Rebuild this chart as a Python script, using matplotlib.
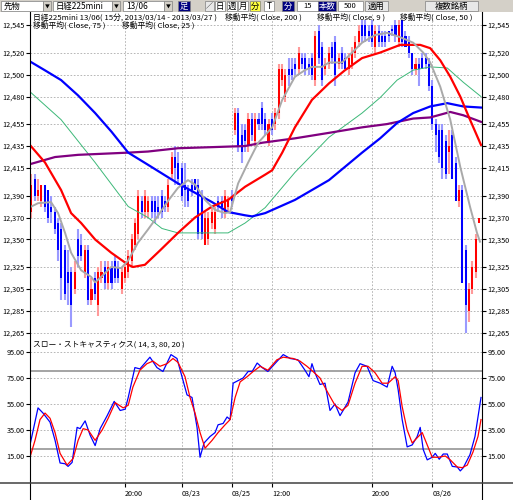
import numpy as np
import matplotlib
matplotlib.use('Agg')
import matplotlib.pyplot as plt
from matplotlib.patches import Rectangle

plt.rcParams['font.family'] = ['Noto Sans CJK JP', 'DejaVu Sans']

# --- 15 min candles ---
open_ = [12375, 12405, 12390, 12385, 12400, 12395, 12380, 12375, 12365, 12360,
         12340, 12320, 12320, 12305, 12350, 12345, 12320, 12340, 12295, 12315,
         12290, 12315, 12325, 12310, 12325, 12330, 12325, 12305, 12315, 12320,
         12330, 12345, 12355, 12385, 12375, 12375, 12385, 12385, 12380, 12390,
         12385, 12380, 12410, 12425, 12420, 12415, 12400, 12395, 12400, 12405,
         12400, 12390, 12345, 12350, 12365, 12360, 12385, 12385, 12375, 12380,
         12390, 12450, 12465, 12445, 12450, 12435, 12460, 12440, 12460, 12470,
         12460, 12440, 12460, 12455, 12465, 12495, 12480, 12505, 12505, 12510,
         12505, 12515, 12515, 12510, 12515, 12495, 12540, 12525, 12505, 12510,
         12525, 12530, 12510, 12520, 12515, 12505, 12510, 12520, 12530, 12545,
         12545, 12540, 12545, 12525, 12540, 12535, 12535, 12540, 12540, 12545,
         12530, 12550, 12535, 12530, 12520, 12505, 12510, 12515, 12515, 12510,
         12490, 12455, 12450, 12450, 12440, 12430, 12445, 12420, 12385, 12395,
         12340, 12285, 12305, 12320, 12365]
high = [12410, 12410, 12405, 12400, 12400, 12395, 12390, 12380, 12370, 12365,
        12345, 12340, 12325, 12330, 12360, 12355, 12345, 12345, 12315, 12320,
        12325, 12330, 12330, 12330, 12330, 12335, 12330, 12325, 12330, 12340,
        12355, 12370, 12395, 12390, 12395, 12390, 12390, 12390, 12390, 12395,
        12390, 12405, 12430, 12435, 12430, 12420, 12420, 12400, 12405, 12405,
        12405, 12395, 12375, 12375, 12380, 12380, 12390, 12390, 12395, 12390,
        12395, 12470, 12470, 12455, 12455, 12465, 12465, 12465, 12465, 12475,
        12465, 12460, 12465, 12470, 12510, 12510, 12505, 12515, 12515, 12515,
        12525, 12520, 12520, 12515, 12520, 12540, 12545, 12530, 12515, 12525,
        12530, 12535, 12520, 12525, 12520, 12520, 12525, 12535, 12545, 12550,
        12550, 12545, 12550, 12545, 12545, 12540, 12540, 12540, 12545, 12550,
        12550, 12550, 12540, 12535, 12520, 12515, 12515, 12520, 12520, 12515,
        12495, 12460, 12455, 12455, 12445, 12450, 12450, 12425, 12400, 12400,
        12345, 12310, 12330, 12355, 12370]
low = [12370, 12385, 12385, 12380, 12375, 12365, 12365, 12355, 12330, 12295,
       12295, 12290, 12270, 12300, 12325, 12330, 12315, 12290, 12290, 12295,
       12280, 12310, 12305, 12305, 12305, 12310, 12310, 12300, 12310, 12315,
       12325, 12340, 12350, 12370, 12370, 12370, 12370, 12365, 12370, 12370,
       12375, 12375, 12405, 12400, 12400, 12385, 12380, 12380, 12390, 12395,
       12350, 12350, 12345, 12345, 12360, 12355, 12375, 12370, 12370, 12375,
       12380, 12445, 12430, 12420, 12430, 12430, 12440, 12435, 12450, 12450,
       12445, 12435, 12445, 12450, 12460, 12490, 12475, 12490, 12495, 12500,
       12500, 12505, 12500, 12500, 12495, 12490, 12510, 12490, 12500, 12505,
       12510, 12490, 12505, 12505, 12505, 12500, 12505, 12515, 12525, 12530,
       12530, 12530, 12525, 12520, 12525, 12525, 12525, 12530, 12535, 12530,
       12525, 12525, 12525, 12515, 12500, 12500, 12490, 12505, 12505, 12485,
       12450, 12430, 12420, 12405, 12405, 12410, 12405, 12385, 12380, 12310,
       12265, 12275, 12300, 12315, 12365]
close = [12400, 12390, 12395, 12400, 12380, 12370, 12375, 12360, 12340, 12315,
         12300, 12310, 12290, 12320, 12335, 12335, 12340, 12295, 12305, 12300,
         12320, 12320, 12310, 12325, 12310, 12315, 12315, 12320, 12325, 12335,
         12350, 12365, 12390, 12375, 12390, 12385, 12375, 12375, 12375, 12375,
         12380, 12400, 12425, 12415, 12405, 12390, 12395, 12385, 12395, 12395,
         12355, 12355, 12370, 12370, 12375, 12375, 12380, 12380, 12390, 12385,
         12385, 12465, 12435, 12430, 12440, 12460, 12445, 12460, 12455, 12455,
         12450, 12455, 12450, 12465, 12505, 12505, 12500, 12500, 12500, 12505,
         12520, 12510, 12505, 12505, 12500, 12535, 12515, 12495, 12510, 12520,
         12515, 12500, 12515, 12510, 12505, 12515, 12520, 12530, 12540, 12535,
         12535, 12535, 12530, 12540, 12530, 12530, 12530, 12535, 12540, 12535,
         12545, 12530, 12525, 12520, 12505, 12510, 12505, 12505, 12510, 12490,
         12455, 12445, 12425, 12415, 12410, 12435, 12405, 12385, 12395, 12310,
         12290, 12305, 12325, 12350, 12370]

# --- moving averages (bar position, value) ---
ma200_x = [-1.0, 7.1, 14.0, 29.0, 34.9, 43.9, 54.1, 64.0, 69.1, 78.9, 89.1, 99.0, 106.5, 114.3, 119.4, 125.4, 129.3, 134.6]
ma200_y = [12418, 12425, 12427, 12429, 12430, 12433, 12434, 12435, 12438, 12442, 12447, 12452, 12455, 12460, 12461, 12466, 12463, 12457]

ma50_x = [-1.0, 4.0, 8.9, 14.0, 19.1, 24.0, 29.0, 34.9, 43.9, 54.1, 58.9, 64.0, 66.1, 70.0, 78.9, 89.1, 99.0, 104.4, 109.5, 114.3, 119.4, 124.5, 129.3, 134.6]
ma50_y = [12513, 12504, 12495, 12481, 12465, 12448, 12429, 12418, 12401, 12384, 12375, 12372, 12371, 12374, 12386, 12404, 12429, 12442, 12456, 12465, 12471, 12474, 12471, 12470]

ma75_x = [-1.0, 8.9, 19.1, 29.0, 34.9, 39.1, 43.9, 49.0, 54.1, 58.9, 64.0, 70.0, 78.9, 89.1, 99.0, 104.4, 109.5, 114.3, 119.4, 124.5, 129.3, 134.6]
ma75_y = [12486, 12459, 12420, 12380, 12370, 12360, 12356, 12356, 12356, 12356, 12365, 12379, 12411, 12443, 12465, 12479, 12495, 12504, 12507, 12506, 12493, 12480]

ma25_x = [-1.0, 4.1, 8.9, 11.9, 14.9, 19.1, 23.9, 29.0, 30.4, 34.0, 38.5, 43.9, 49.0, 54.1, 58.9, 64.0, 70.0, 72.1,
          75.1, 78.9, 84.0, 89.1, 93.9, 99.0, 104.4, 110.4, 116.4, 119.4, 122.4, 125.4, 128.4, 131.3, 134.6]
ma25_y = [12438, 12420, 12395, 12374, 12365, 12350, 12338, 12327, 12325, 12327, 12340, 12356, 12370, 12380, 12386, 12398, 12409, 12413,
          12429, 12452, 12477, 12492, 12504, 12515, 12520, 12527, 12527, 12524, 12513, 12498, 12480, 12459, 12436]

ma9_x = [0.0, 2.0, 5.9, 8.0, 10.1, 11.9, 14.9, 17.9, 19.1, 20.9, 23.9, 26.9, 29.0, 31.9, 34.9, 38.0, 40.9, 43.9, 46.9, 49.0,
         52.0, 55.0, 58.0, 59.5, 61.9, 64.9, 67.9, 70.0, 72.1, 75.1, 78.9, 81.9, 84.0, 87.0, 89.1, 93.0, 96.0, 99.0, 102.9,
         106.5, 110.4, 114.3, 117.3, 119.4, 122.4, 125.4, 128.4, 131.3, 133.4, 134.3]
ma9_y = [12380, 12383, 12384, 12374, 12356, 12338, 12322, 12316, 12311, 12316, 12325, 12324, 12331, 12347, 12359, 12372, 12385, 12397, 12404, 12400,
         12386, 12377, 12374, 12375, 12401, 12420, 12438, 12445, 12452, 12477, 12498, 12504, 12507, 12507, 12511, 12511, 12520, 12529, 12536,
         12538, 12534, 12529, 12520, 12511, 12489, 12459, 12416, 12380, 12356, 12348]

# --- slow stochastics (14, 3, 80, 20) ---
k_x = [-0.4, 2.0, 3.5, 5.6, 7.1, 8.6, 10.1, 11.0, 12.2, 13.7, 14.6, 16.1, 17.6, 19.1, 20.6, 22.7, 24.8, 26.6, 28.1, 29.0,
       31.0, 32.5, 35.5, 37.6, 39.4, 41.8, 43.6, 45.1, 46.6, 48.1, 49.6, 50.5, 51.7, 53.5, 55.0, 55.9, 57.4, 58.6, 59.5,
       60.4, 61.9, 63.4, 64.9, 66.1, 67.6, 69.1, 70.8, 72.9, 75.4, 77.5, 79.8, 81.9, 83.1, 84.0, 84.9, 86.4, 87.9, 89.4,
       90.9, 92.4, 94.8, 96.9, 98.4, 100.5, 102.3, 104.4, 106.5, 108.0, 108.9, 109.8, 111.0, 112.5, 114.0, 115.5, 116.4,
       117.3, 118.5, 120.0, 120.9, 122.1, 123.3, 124.5, 126.0, 127.5, 128.4, 129.3, 131.3, 132.8, 134.6]
k_y = [23.5, 52, 48, 41, 27, 9.6, 9, 7, 10, 37, 36, 42, 31, 23, 36, 46, 57, 50, 51, 60,
       83, 82, 91, 83, 80, 93, 90, 76, 62, 60, 37, 14, 25, 30, 33, 39, 40, 45, 43,
       71, 73, 75, 80, 80, 86.5, 83, 80, 86, 93, 90, 89, 81, 76, 86, 79, 70, 71, 50,
       55, 46, 56.5, 79, 86, 84, 73, 71, 68, 84, 79, 66, 43, 22, 23.5, 30, 37,
       20, 12, 14, 17, 12.5, 16.5, 16.5, 7, 6.5, 3.5, 6, 16, 30, 60]
d_x = [-0.4, 1.1, 2.6, 4.1, 5.6, 7.1, 8.6, 10.7, 12.5, 14.0, 15.5, 17.0, 19.1, 21.2, 23.0, 25.1, 27.5, 29.0, 30.4, 32.5,
       34.6, 36.4, 38.5, 40.6, 42.4, 43.9, 46.0, 47.5, 49.0, 50.5, 52.0, 54.1, 55.9, 58.0, 59.5, 61.0, 62.5, 64.6, 66.4,
       68.5, 70.8, 73.5, 75.4, 78.4, 80.4, 82.5, 84.3, 86.4, 88.8, 90.9, 93.0, 94.8, 96.9, 99.0, 100.8, 102.9, 105.0,
       106.8, 108.9, 109.8, 111.0, 112.5, 114.0, 115.5, 117.0, 118.5, 120.0, 121.8, 123.9, 125.4, 127.5, 129.0, 130.5,
       132.2, 133.7, 134.6]
d_y = [14, 27, 43, 48, 44, 33, 17, 8, 13, 27, 36, 35, 27, 35, 44, 56, 52, 54, 68, 81,
       86, 88, 84, 86, 90, 87, 76, 60, 48, 33, 21, 27, 33, 39, 43, 60, 72, 76, 80,
       84, 81, 89, 91, 90, 88, 84, 80, 75, 63.5, 54, 50, 54, 71, 84, 84, 79, 71,
       71, 76, 73, 53, 35, 25, 29, 33, 23.5, 14, 14, 15, 12, 6.5, 6, 8,
       18, 30, 43]

price_ticks = [12545, 12520, 12500, 12480, 12455, 12435, 12415, 12390, 12370, 12350, 12325, 12305, 12285, 12265]
stoch_ticks = [95, 75, 55, 35, 15]
time_ticks = [28, 45, 60, 72, 102, 120]
time_labels = ['20:00', '03/23', '03/25', '12:00', '20:00', '03/26']

# --- figure / panels (pixel layout of the original screen) ---
W, H = 513, 500
L, R = 30, 482
fig = plt.figure(figsize=(W / 100, H / 100), dpi=100)
fig.patch.set_facecolor('white')


def fx(px):
    return px / W


def fy(py):
    return 1 - py / H


ax = fig.add_axes([fx(L), fy(339), fx(R) - fx(L), fy(13) - fy(339)])
ax2 = fig.add_axes([fx(L), fy(483), fx(R) - fx(L), fy(339) - fy(483)])

grid_kw = dict(color='#ababab', linestyle=(0, (2, 2)), lw=0.6)

# candles
x = np.arange(len(close))
o = np.array(open_)
c = np.array(close)
hi = np.array(high)
lo = np.array(low)
up = c > o
body_lo = np.minimum(o, c)
body_h = np.maximum(np.abs(c - o), 1.5)
ax.vlines(x[up], lo[up], hi[up], color='#ff9a9a', lw=1.5, zorder=2)
ax.vlines(x[~up], lo[~up], hi[~up], color='#9a9aff', lw=1.5, zorder=2)
ax.bar(x[up], body_h[up], bottom=body_lo[up], width=0.62, color='#ff0000', lw=0, zorder=3)
ax.bar(x[~up], body_h[~up], bottom=body_lo[~up], width=0.62, color='#0000ff', lw=0, zorder=3)

# moving averages
ax.plot(ma75_x, ma75_y, color='#3cb878', lw=0.7, zorder=4)
ax.plot(ma200_x, ma200_y, color='#800080', lw=1.6, zorder=5)
ax.plot(ma50_x, ma50_y, color='#0000ff', lw=1.6, zorder=5)
ax.plot(ma25_x, ma25_y, color='#ff0000', lw=1.6, zorder=5)
ax.plot(ma9_x, ma9_y, color='#a9a9a9', lw=1.4, zorder=6)

ax.set_xlim(-0.4, 134.9)
ax.set_ylim(12259.5, 12556)
ax.set_yticks(price_ticks)
ax.set_yticklabels([f'{v:,}' for v in price_ticks])
ax.set_xticks(time_ticks)
ax.tick_params(axis='x', length=0, labelbottom=False)
ax.tick_params(axis='y', left=True, right=True, labelleft=True, labelright=True,
               length=3, width=0.8, pad=1, labelsize=5.2)
ax.grid(True, **grid_kw)
ax.set_axisbelow(True)

# stochastics
ax2.axhline(80, color='#8c8c8c', lw=1.1, zorder=2)
ax2.axhline(20, color='#8c8c8c', lw=1.1, zorder=2)
ax2.plot(k_x, k_y, color='#0000ff', lw=0.9, zorder=4)
ax2.plot(d_x, d_y, color='#ff0000', lw=0.9, zorder=5)
ax2.set_xlim(-0.4, 134.9)
ax2.set_ylim(-5.8, 105)
ax2.set_yticks(stoch_ticks)
ax2.set_yticklabels([f'{v:.2f}' for v in stoch_ticks])
ax2.tick_params(axis='y', left=True, right=True, labelleft=True, labelright=True,
                length=3, width=0.8, pad=1, labelsize=5.2)
ax2.set_xticks(time_ticks)
ax2.set_xticklabels(time_labels)
ax2.tick_params(axis='x', length=3, width=0.8, pad=2, labelsize=5.2)
for t in ax2.get_xticklabels():
    t.set_ha('left')
ax2.grid(True, **grid_kw)
ax2.set_axisbelow(True)

for a in (ax, ax2):
    for s in a.spines.values():
        s.set_visible(False)

# --- overlay in screen pixels: frame, legends, toolbar ---
ov = fig.add_axes([0, 0, 1, 1], zorder=10)
ov.set_xlim(0, W)
ov.set_ylim(H, 0)
ov.axis('off')

ov.plot([L, L], [12, H], color='black', lw=0.8)
ov.plot([R, R], [12, H], color='black', lw=0.8)
ov.plot([0, W], [483, 483], color='#404040', lw=1.1)

ov.text(33, 17.5, '日経225mini 13/06( 15分, 2013/03/14 - 2013/03/27 )', fontsize=5.6, va='center')
ov.text(225, 17.5, '移動平均( Close, 200 )', fontsize=5.6, va='center')
ov.text(317, 17.5, '移動平均( Close, 9 )', fontsize=5.6, va='center')
ov.text(400, 17.5, '移動平均( Close, 50 )', fontsize=5.6, va='center')
ov.text(33, 25.5, '移動平均( Close, 75 )', fontsize=5.6, va='center')
ov.text(122, 25.5, '移動平均( Close, 25 )', fontsize=5.6, va='center')
ov.text(33, 345, 'スロー・ストキャスティクス( 14, 3, 80, 20 )', fontsize=5.6, va='center')

# toolbar
ov.add_patch(Rectangle((0, 0), W, 12, facecolor='#d4d0c8', edgecolor='none'))


def box(x0, x1, face, label='', tcolor='black', size=6, edge='#808080'):
    ov.add_patch(Rectangle((x0, 1), x1 - x0, 10, facecolor=face, edgecolor=edge, lw=0.5))
    if label:
        ov.text((x0 + x1) / 2, 6.2, label, fontsize=size, color=tcolor, ha='center', va='center')


def combo(x0, x1, label):
    ov.add_patch(Rectangle((x0, 1), x1 - x0, 10, facecolor='white', edgecolor='#808080', lw=0.5))
    ov.text(x0 + 3, 6.2, label, fontsize=6, ha='left', va='center')
    box(x1, x1 + 8, '#d4d0c8', '▼', size=3.5)


combo(1, 43, '先物')
combo(53, 112, '日経225mini')
combo(123, 164, '13/06')
box(178, 190, '#000080', '足', tcolor='white')
box(205, 214, '#e8e8e8', '∕', size=5)
box(215, 225, 'white', '日')
box(227, 237, 'white', '週')
box(238, 248, 'white', '月')
box(250, 260, '#ffff40', '分')
box(264, 274, 'white', 'T')
box(282, 294, '#000080', '分', tcolor='white')
box(297, 318, 'white', '15', size=5.5)
box(318, 336, '#000080', '本数', tcolor='white')
box(338, 363, 'white', '500', size=5.5)
box(365, 388, '#e8e8e8', '適用')
box(425, 478, '#e8e8e8', '複数銘柄')

fig.savefig('out.png', dpi=100)
